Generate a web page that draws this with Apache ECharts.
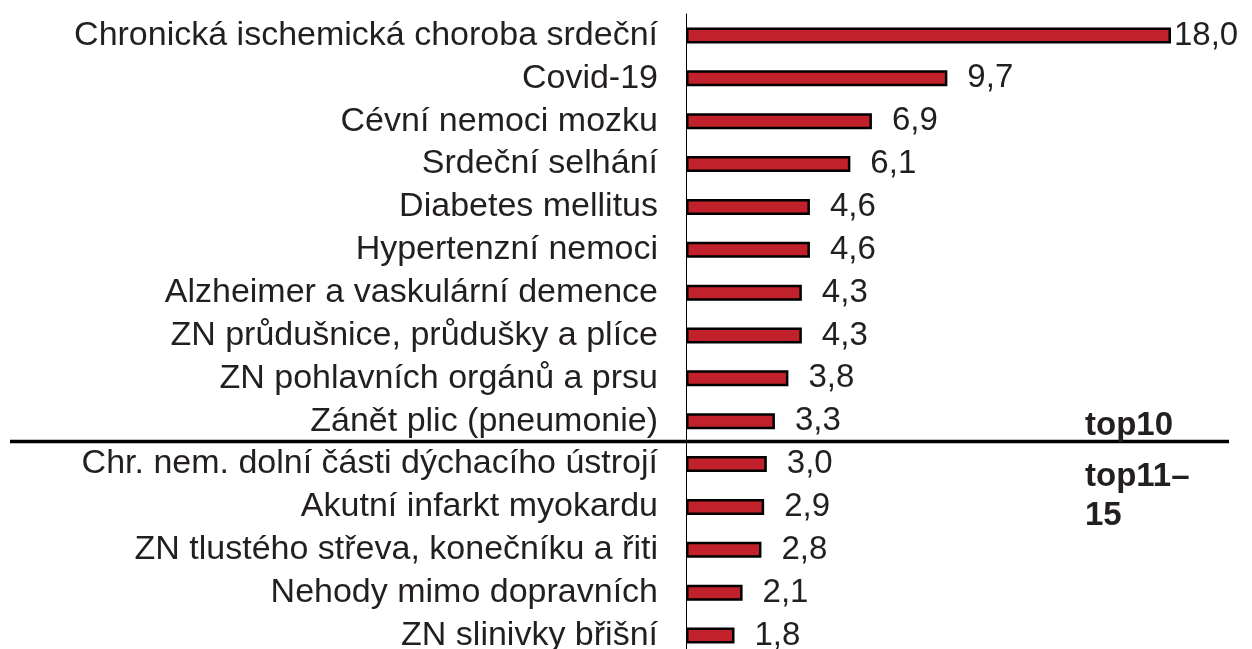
<!DOCTYPE html>
<html><head><meta charset="utf-8">
<script src="https://cdn.jsdelivr.net/npm/echarts@6/dist/echarts.min.js"></script>
<style>html,body{margin:0;padding:0;background:#fff}#c{width:1252px;height:649px}</style>
</head><body><div id="c"></div>
<script>
const categories = [
  "Chronická ischemická choroba srdeční",
  "Covid-19",
  "Cévní nemoci mozku",
  "Srdeční selhání",
  "Diabetes mellitus",
  "Hypertenzní nemoci",
  "Alzheimer a vaskulární demence",
  "ZN průdušnice, průdušky a plíce",
  "ZN pohlavních orgánů a prsu",
  "Zánět plic (pneumonie)",
  "Chr. nem. dolní části dýchacího ústrojí",
  "Akutní infarkt myokardu",
  "ZN tlustého střeva, konečníku a řiti",
  "Nehody mimo dopravních",
  "ZN slinivky břišní"
];
const values = [18.0, 9.7, 6.9, 6.1, 4.6, 4.6, 4.3, 4.3, 3.8, 3.3, 3.0, 2.9, 2.8, 2.1, 1.8];
const groupLabels = ["top10", "top11–", "15"];

const maxV = Math.max(...values);
const seriesData = values.map(v => v === maxV ? {value: v, label: {distance: 3}} : v);

const chart = echarts.init(document.getElementById('c'));
const font = "'Liberation Sans', Arial, sans-serif";
chart.setOption({
  animation: false,
  grid: {left: 686, top: 14, width: 485, height: 643, containLabel: false, outerBoundsMode: 'none'},
  xAxis: {type: 'value', min: 0, max: 18, show: false},
  yAxis: {
    type: 'category', data: categories, inverse: true,
    axisLine: {show: true, lineStyle: {color: '#000', width: 1}},
    axisTick: {show: false},
    axisLabel: {interval: 0, hideOverlap: false, fontFamily: font, fontSize: 34, color: '#231F20', margin: 28}
  },
  series: [{
    type: 'bar', data: seriesData, barWidth: 16,
    itemStyle: {color: '#C0212A', borderColor: '#000', borderWidth: 2.5},
    label: {show: true, position: 'right', distance: 20, fontFamily: font, fontSize: 33, color: '#231F20',
      formatter: p => p.value.toFixed(1).replace('.', ',')}
  }],
  graphic: [
    {type: 'line', shape: {x1: 10, y1: 441.5, x2: 1229, y2: 441.5}, style: {stroke: '#000', lineWidth: 3.5}},
    {type: 'text', x: 1085, y: 426, style: {text: groupLabels[0], font: "bold 33px " + font, fill: '#231F20', verticalAlign: 'middle'}},
    {type: 'text', x: 1085, y: 477, style: {text: groupLabels[1], font: "bold 33px " + font, fill: '#231F20', verticalAlign: 'middle'}},
    {type: 'text', x: 1085, y: 516, style: {text: groupLabels[2], font: "bold 33px " + font, fill: '#231F20', verticalAlign: 'middle'}}
  ]
});
</script></body></html>
